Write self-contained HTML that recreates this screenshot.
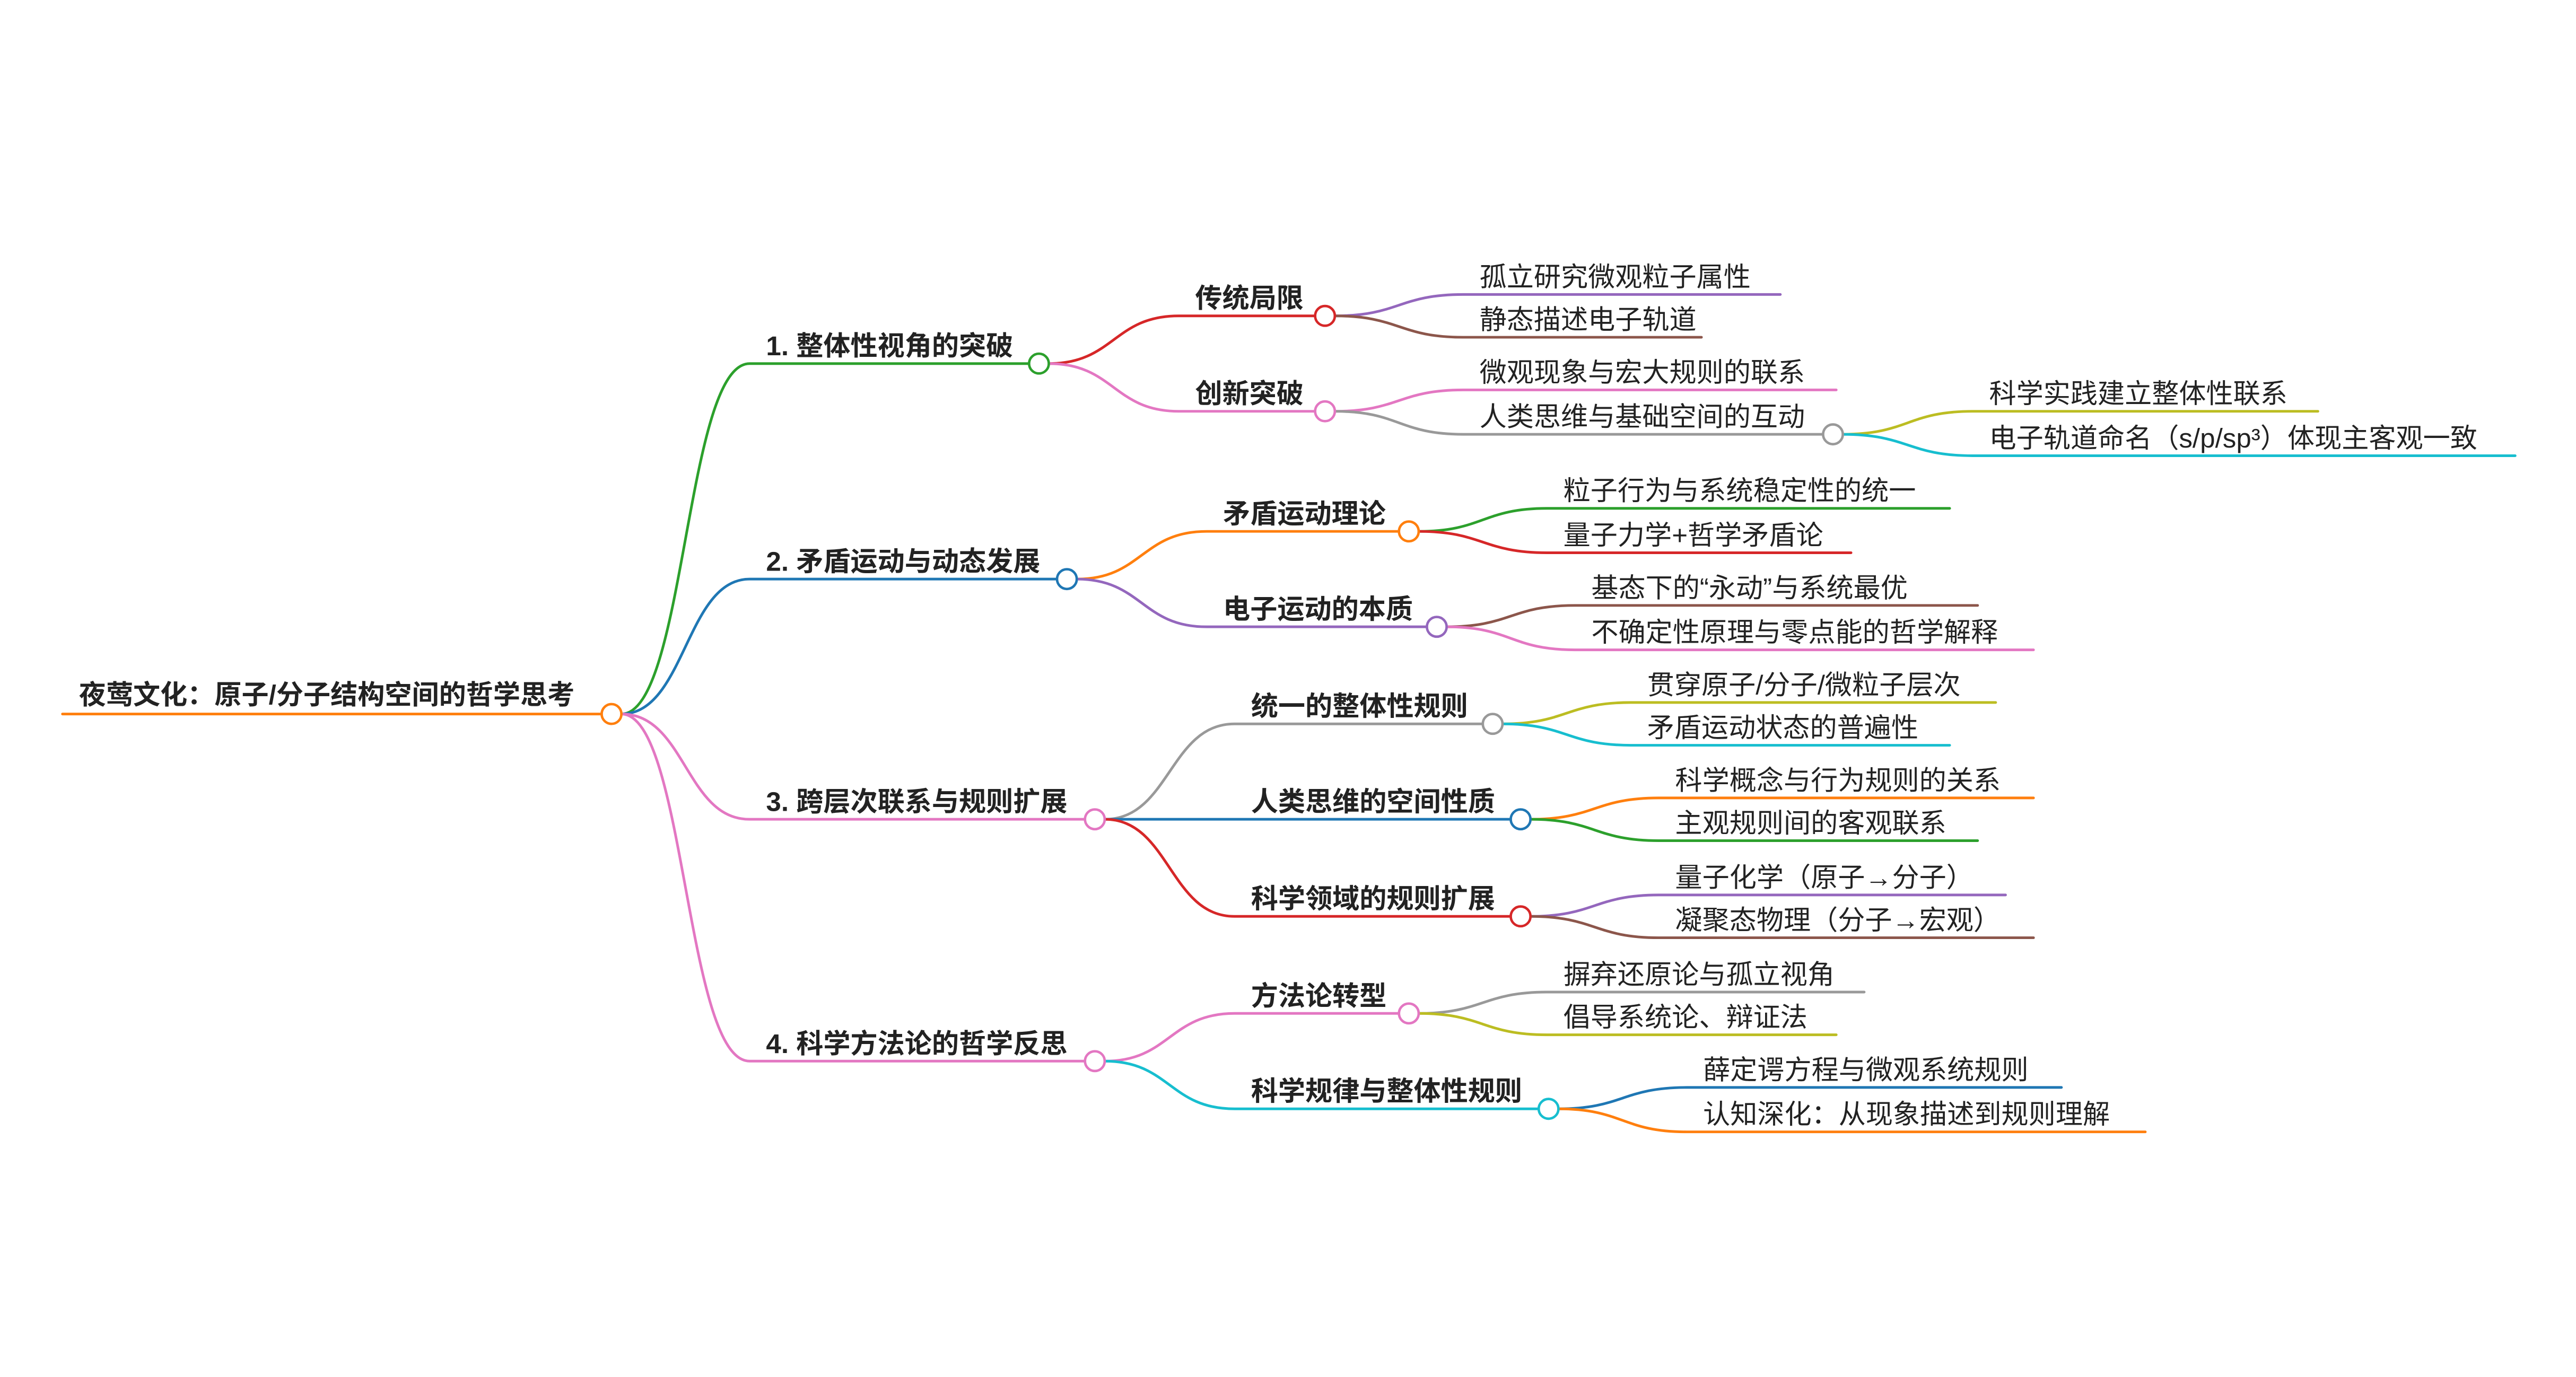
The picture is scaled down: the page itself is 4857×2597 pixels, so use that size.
<!DOCTYPE html>
<html><head><meta charset="utf-8"><style>
html,body{margin:0;padding:0;background:#fff;}
svg{display:block;}
text{font-family:"Liberation Sans","Noto Sans CJK SC",sans-serif;font-size:16.5px;fill:#222;}
.b{font-weight:bold;}
path{fill:none;stroke-width:1.6;stroke-linecap:round;}
circle{fill:#fff;stroke-width:1.5;}
</style></head><body>
<svg width="4857" height="2597" viewBox="0 0 1567 837" preserveAspectRatio="none" xmlns="http://www.w3.org/2000/svg">
<path d="M38 434 L366 434" stroke="#ff7f0e" stroke-width="2.4"/>
<text class="b" x="48" y="428">夜莺文化：原子/分子结构空间的哲学思考</text>

<path d="M378 434 C417 434 417 221 456 221 L626 221" stroke="#2ca02c"/>
<path d="M378 434 C417 434 417 352 456 352 L643 352" stroke="#1f77b4"/>
<path d="M378 434 C417 434 417 498 456 498 L660 498" stroke="#e377c2"/>
<path d="M378 434 C417 434 417 645 456 645 L660 645" stroke="#e377c2"/>
<text class="b" x="466" y="216">1. 整体性视角的突破</text>
<text class="b" x="466" y="347">2. 矛盾运动与动态发展</text>
<text class="b" x="466" y="493">3. 跨层次联系与规则扩展</text>
<text class="b" x="466" y="640">4. 科学方法论的哲学反思</text>

<path d="M638 221 C677.5 221 677.5 192 717 192 L800 192" stroke="#d62728"/>
<path d="M638 221 C677.5 221 677.5 250 717 250 L800 250" stroke="#e377c2"/>
<text class="b" x="727" y="187">传统局限</text>
<text class="b" x="727" y="245">创新突破</text>
<path d="M812 192 C851 192 851 179 890 179 L1083 179" stroke="#9467bd"/>
<path d="M812 192 C851 192 851 205 890 205 L1035 205" stroke="#8c564b"/>
<text x="900" y="174">孤立研究微观粒子属性</text>
<text x="900" y="200">静态描述电子轨道</text>
<path d="M812 250 C851 250 851 237 890 237 L1117 237" stroke="#e377c2"/>
<path d="M812 250 C851 250 851 264 890 264 L1109 264" stroke="#999"/>
<text x="900" y="232">微观现象与宏大规则的联系</text>
<text x="900" y="259">人类思维与基础空间的互动</text>
<path d="M1121 264 C1160.5 264 1160.5 250 1200 250 L1410 250" stroke="#bcbd22"/>
<path d="M1121 264 C1160.5 264 1160.5 277 1200 277 L1530 277" stroke="#17becf"/>
<text x="1210" y="245">科学实践建立整体性联系</text>
<text x="1210" y="272">电子轨道命名（s/p/sp³）体现主客观一致</text>

<path d="M655 352 C694.5 352 694.5 323 734 323 L851 323" stroke="#ff7f0e"/>
<path d="M655 352 C694.5 352 694.5 381 734 381 L868 381" stroke="#9467bd"/>
<text class="b" x="744" y="318">矛盾运动理论</text>
<text class="b" x="744" y="376">电子运动的本质</text>
<path d="M863 323 C902 323 902 309 941 309 L1186 309" stroke="#2ca02c"/>
<path d="M863 323 C902 323 902 336 941 336 L1126 336" stroke="#d62728"/>
<text x="951" y="304">粒子行为与系统稳定性的统一</text>
<text x="951" y="331">量子力学+哲学矛盾论</text>
<path d="M880 381 C919 381 919 368 958 368 L1203 368" stroke="#8c564b"/>
<path d="M880 381 C919 381 919 395 958 395 L1237 395" stroke="#e377c2"/>
<text x="968" y="363">基态下的“永动”与系统最优</text>
<text x="968" y="390">不确定性原理与零点能的哲学解释</text>

<path d="M672 498 C711.5 498 711.5 440 751 440 L902 440" stroke="#999"/>
<path d="M672 498 C711.5 498 711.5 498 751 498 L919 498" stroke="#1f77b4"/>
<path d="M672 498 C711.5 498 711.5 557 751 557 L919 557" stroke="#d62728"/>
<text class="b" x="761" y="435">统一的整体性规则</text>
<text class="b" x="761" y="493">人类思维的空间性质</text>
<text class="b" x="761" y="552">科学领域的规则扩展</text>
<path d="M914 440 C953 440 953 427 992 427 L1214 427" stroke="#bcbd22"/>
<path d="M914 440 C953 440 953 453 992 453 L1186 453" stroke="#17becf"/>
<text x="1002" y="422">贯穿原子/分子/微粒子层次</text>
<text x="1002" y="448">矛盾运动状态的普遍性</text>
<path d="M931 498 C970 498 970 485 1009 485 L1237 485" stroke="#ff7f0e"/>
<path d="M931 498 C970 498 970 511 1009 511 L1203 511" stroke="#2ca02c"/>
<text x="1019" y="480">科学概念与行为规则的关系</text>
<text x="1019" y="506">主观规则间的客观联系</text>
<path d="M931 557 C970 557 970 544 1009 544 L1220 544" stroke="#9467bd"/>
<path d="M931 557 C970 557 970 570 1009 570 L1237 570" stroke="#8c564b"/>
<text x="1019" y="539">量子化学（原子→分子）</text>
<text x="1019" y="565">凝聚态物理（分子→宏观）</text>

<path d="M672 645 C711.5 645 711.5 616 751 616 L851 616" stroke="#e377c2"/>
<path d="M672 645 C711.5 645 711.5 674 751 674 L936 674" stroke="#17becf"/>
<text class="b" x="761" y="611">方法论转型</text>
<text class="b" x="761" y="669">科学规律与整体性规则</text>
<path d="M863 616 C902 616 902 603 941 603 L1134 603" stroke="#999"/>
<path d="M863 616 C902 616 902 629 941 629 L1117 629" stroke="#bcbd22"/>
<text x="951" y="598">摒弃还原论与孤立视角</text>
<text x="951" y="624">倡导系统论、辩证法</text>
<path d="M948 674 C987 674 987 661 1026 661 L1254 661" stroke="#1f77b4"/>
<path d="M948 674 C987 674 987 688 1026 688 L1305 688" stroke="#ff7f0e"/>
<text x="1036" y="656">薛定谔方程与微观系统规则</text>
<text x="1036" y="683">认知深化：从现象描述到规则理解</text>

<circle cx="372" cy="434" r="6" stroke="#ff7f0e"/>
<circle cx="632" cy="221" r="6" stroke="#2ca02c"/>
<circle cx="649" cy="352" r="6" stroke="#1f77b4"/>
<circle cx="666" cy="498" r="6" stroke="#e377c2"/>
<circle cx="666" cy="645" r="6" stroke="#e377c2"/>
<circle cx="806" cy="192" r="6" stroke="#d62728"/>
<circle cx="806" cy="250" r="6" stroke="#e377c2"/>
<circle cx="1115" cy="264" r="6" stroke="#999"/>
<circle cx="857" cy="323" r="6" stroke="#ff7f0e"/>
<circle cx="874" cy="381" r="6" stroke="#9467bd"/>
<circle cx="908" cy="440" r="6" stroke="#999"/>
<circle cx="925" cy="498" r="6" stroke="#1f77b4"/>
<circle cx="925" cy="557" r="6" stroke="#d62728"/>
<circle cx="857" cy="616" r="6" stroke="#e377c2"/>
<circle cx="942" cy="674" r="6" stroke="#17becf"/>
</svg>
</body></html>
